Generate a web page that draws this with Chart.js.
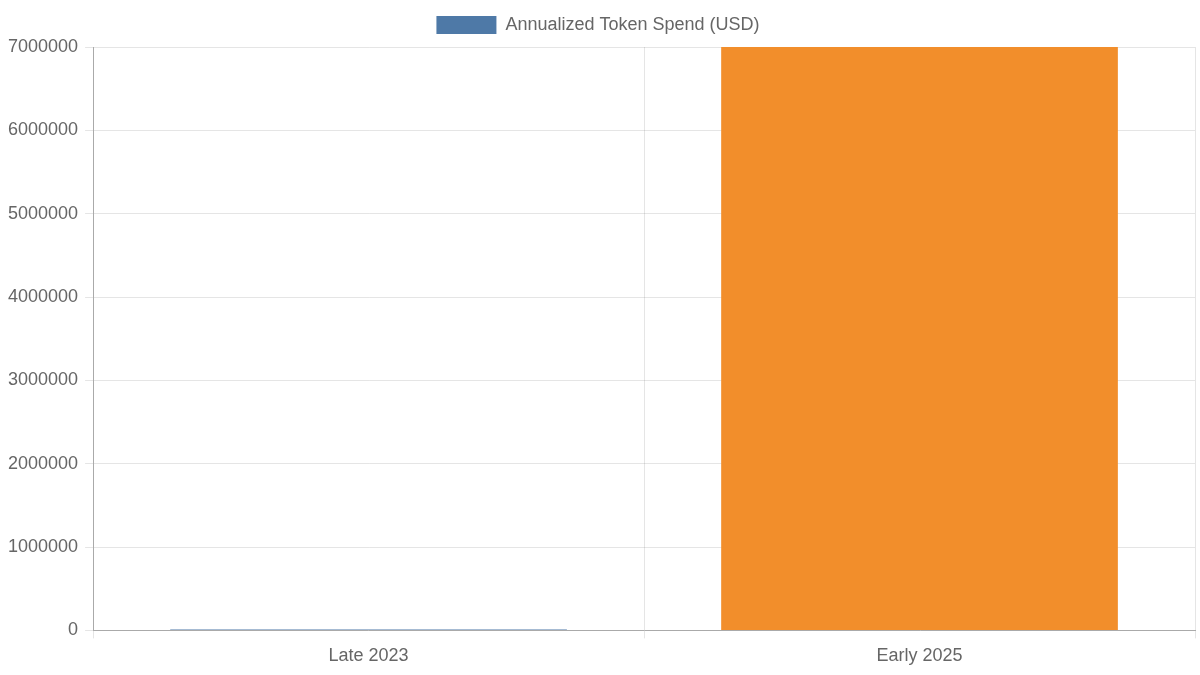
<!DOCTYPE html>
<html>
<head>
<meta charset="utf-8">
<script src="https://cdn.jsdelivr.net/npm/chart.js@4"></script>
<style>
  html, body { margin: 0; padding: 0; background: #fff; }
  #wrap { width: 1200px; height: 675px; }
</style>
</head>
<body>
<div id="wrap"><canvas id="chart"></canvas></div>
<script>
const categories = ["Late 2023", "Early 2025"];
const spend = [12000, 7000000];
const barColors = ["#4e79a7", "#f28e2b"];
const seriesLabel = "Annualized Token Spend (USD)";

Chart.defaults.font.family = "'Liberation Sans', Arial, sans-serif";
Chart.defaults.font.size = 18;
Chart.defaults.color = "#666";

// a little extra space under the legend
const legendGap = {
  id: "legendGap",
  beforeInit(chart) {
    const fit = chart.legend.fit;
    chart.legend.fit = function () {
      fit.call(this);
      this.height += 3;
    };
  }
};

new Chart(document.getElementById("chart"), {
  type: "bar",
  data: {
    labels: categories,
    datasets: [{
      label: seriesLabel,
      data: spend,
      backgroundColor: barColors,
      borderWidth: 0
    }]
  },
  options: {
    responsive: true,
    maintainAspectRatio: false,
    animation: false,
    layout: { padding: { top: 2, right: 5, bottom: 1, left: 1 } },
    plugins: {
      legend: {
        labels: { boxWidth: 60, boxHeight: 18, padding: 14 }
      },
      tooltip: { enabled: false }
    },
    scales: {
      y: {
        min: 0,
        max: 7000000,
        border: { color: "#aaa" },
        ticks: {
          stepSize: 1000000,
          padding: 7,
          callback: v => String(v)
        }
      },
      x: {
        border: { color: "#aaa" },
        ticks: { padding: 7 }
      }
    }
  },
  plugins: [legendGap]
});
</script>
</body>
</html>
